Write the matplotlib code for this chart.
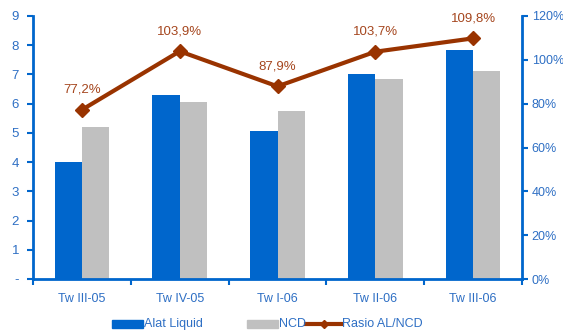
import matplotlib
matplotlib.use("Agg")
import matplotlib.pyplot as plt
import numpy as np
from matplotlib.lines import Line2D
from matplotlib.patches import Rectangle

plt.rcParams['font.family'] = ['Liberation Sans', 'DejaVu Sans']

categories = ["Tw III-05", "Tw IV-05", "Tw I-06", "Tw II-06", "Tw III-06"]
alat_liquid = [4.0, 6.3, 5.05, 7.03, 7.85]
ncd = [5.2, 6.07, 5.75, 6.83, 7.12]
rasio = [77.2, 103.9, 87.9, 103.7, 109.8]
rasio_labels = ["77,2%", "103,9%", "87,9%", "103,7%", "109,8%"]
left_ticks = ["-", "1", "2", "3", "4", "5", "6", "7", "8", "9"]
right_ticks = ["0%", "20%", "40%", "60%", "80%", "100%", "120%"]
legend_labels = ["Alat Liquid", "NCD", "Rasio AL/NCD"]

BLUE = "#0066CC"
GRAY = "#C0C0C0"
BROWN = "#993300"
LABEL_BROWN = "#A5461E"
TEXT_BLUE = "#2E6FC4"
W, H = 563, 335
FS = 9

fig = plt.figure(figsize=(W / 100, H / 100), dpi=100)
ax = fig.add_axes([33 / W, 1 - 279 / H, (522 - 33) / W, (279 - 16) / H])
ax2 = ax.twinx()

x = np.arange(len(categories))
w = 0.28
ax.bar(x - w / 2, alat_liquid, width=w, color=BLUE, zorder=2)
ax.bar(x + w / 2, ncd, width=w, color=GRAY, zorder=2)

ax.set_xlim(-0.5, len(categories) - 0.5)
ax.set_ylim(0, 9)
ax.set_yticks(range(10))
ax.set_yticklabels(left_ticks)
ax.set_xticks(x)
ax.set_xticklabels(categories)
ax.set_xticks(np.arange(-0.5, len(categories)), minor=True)
ax.tick_params(axis='x', which='major', length=0, pad=10, labelsize=FS, labelcolor=TEXT_BLUE)
ax.tick_params(axis='x', which='minor', length=4, width=1.5, color=BLUE, direction='out')
ax.tick_params(axis='y', length=4, width=1.5, color=BLUE, labelsize=9.5, labelcolor=TEXT_BLUE, pad=6)

ax2.plot(x, rasio, color=BROWN, lw=3, marker='D', markersize=7, zorder=3)
ax2.set_ylim(0, 120)
ax2.set_yticks(range(0, 121, 20))
ax2.set_yticklabels(right_ticks)
ax2.tick_params(axis='y', length=4, width=1.5, color=BLUE, labelsize=FS, labelcolor=TEXT_BLUE, pad=3)
for xi, v, lab in zip(x, rasio, rasio_labels):
    ax2.annotate(lab, (xi, v), xytext=(0, 10), textcoords='offset points',
                 ha='center', va='bottom', color=LABEL_BROWN, fontsize=9.5)

for a in (ax, ax2):
    a.spines['top'].set_visible(False)
    for s in ('left', 'right', 'bottom'):
        a.spines[s].set_color(BLUE)
        a.spines[s].set_linewidth(2)
ax.spines['right'].set_visible(False)
ax2.spines['left'].set_visible(False)
ax2.spines['bottom'].set_visible(False)

# Legend row drawn in figure pixels
ly = 1 - 324 / H
sw_h = 8 / H
fig.patches.append(Rectangle((112 / W, ly - sw_h / 2), 31 / W, sw_h,
                             transform=fig.transFigure, color=BLUE))
fig.patches.append(Rectangle((247 / W, ly - sw_h / 2), 31 / W, sw_h,
                             transform=fig.transFigure, color=GRAY))
fig.lines.append(Line2D([306 / W, 341 / W], [ly, ly], transform=fig.transFigure,
                        color=BROWN, lw=3))
fig.lines.append(Line2D([323.5 / W], [ly], transform=fig.transFigure,
                        color=BROWN, marker='D', markersize=4))
for lx, lab in zip([144, 279, 342], legend_labels):
    fig.text(lx / W, ly, lab, ha='left', va='center', color=TEXT_BLUE, fontsize=FS)

fig.savefig("out.png", dpi=100)
